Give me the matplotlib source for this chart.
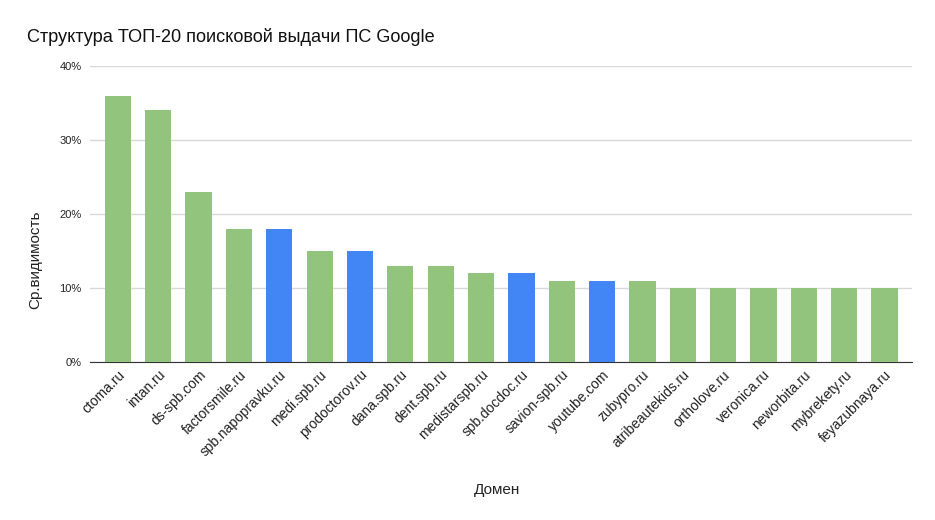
import matplotlib
matplotlib.use("Agg")
import matplotlib.pyplot as plt
from matplotlib.ticker import FuncFormatter

plt.rcParams['font.family'] = ['Liberation Sans', 'DejaVu Sans']

# data
domains = ["ctoma.ru", "intan.ru", "ds-spb.com", "factorsmile.ru", "spb.napopravku.ru",
           "medi.spb.ru", "prodoctorov.ru", "dana.spb.ru", "dent.spb.ru", "medistarspb.ru",
           "spb.docdoc.ru", "savion-spb.ru", "youtube.com", "zubypro.ru", "atribeautekids.ru",
           "ortholove.ru", "veronica.ru", "neworbita.ru", "mybrekety.ru", "feyazubnaya.ru"]
visibility = [36, 34, 23, 18, 18, 15, 15, 13, 13, 12, 12, 11, 11, 11, 10, 10, 10, 10, 10, 10]
aggregators = ["spb.napopravku.ru", "prodoctorov.ru", "spb.docdoc.ru", "youtube.com"]

green = "#93c47d"
blue = "#4285f4"
colors = [blue if d in aggregators else green for d in domains]

fig = plt.figure(figsize=(9.35, 5.2), dpi=100)
ax = fig.add_axes([0.0963, 0.3038, 0.8787, 0.5692])

x = range(len(domains))
ax.bar(x, visibility, width=0.65, color=colors, zorder=3)

ax.set_ylim(0, 40)
ax.set_xlim(-0.69, len(domains) - 1 + 0.67)
ax.set_yticks([0, 10, 20, 30, 40])
ax.yaxis.set_major_formatter(FuncFormatter(lambda v, p: f"{int(v)}%"))
ax.grid(axis='y', color="#d9d9d9", linewidth=1, zorder=0)
for s in ['top', 'right', 'left']:
    ax.spines[s].set_visible(False)
ax.spines['bottom'].set_color("#333333")
ax.tick_params(axis='y', length=0, labelsize=8, colors="#222222", pad=6)
ax.tick_params(axis='x', length=0, pad=4)

ax.set_xticks(list(x))
ax.set_xticklabels(domains, rotation=45, ha='right', rotation_mode='anchor',
                   fontsize=10, color="#222222")

ax.set_ylabel("Ср.видимость", fontsize=11, color="#222222")
ax.yaxis.set_label_coords(-0.058, 0.345)
ax.set_xlabel("Домен", fontsize=11, color="#222222")
ax.xaxis.set_label_coords(0.496, -0.41)

fig.text(0.029, 0.92, "Структура ТОП-20 поисковой выдачи ПС Google",
         fontsize=13.1, color="#111111", ha='left', va='baseline')

fig.savefig("out.png", dpi=100)
